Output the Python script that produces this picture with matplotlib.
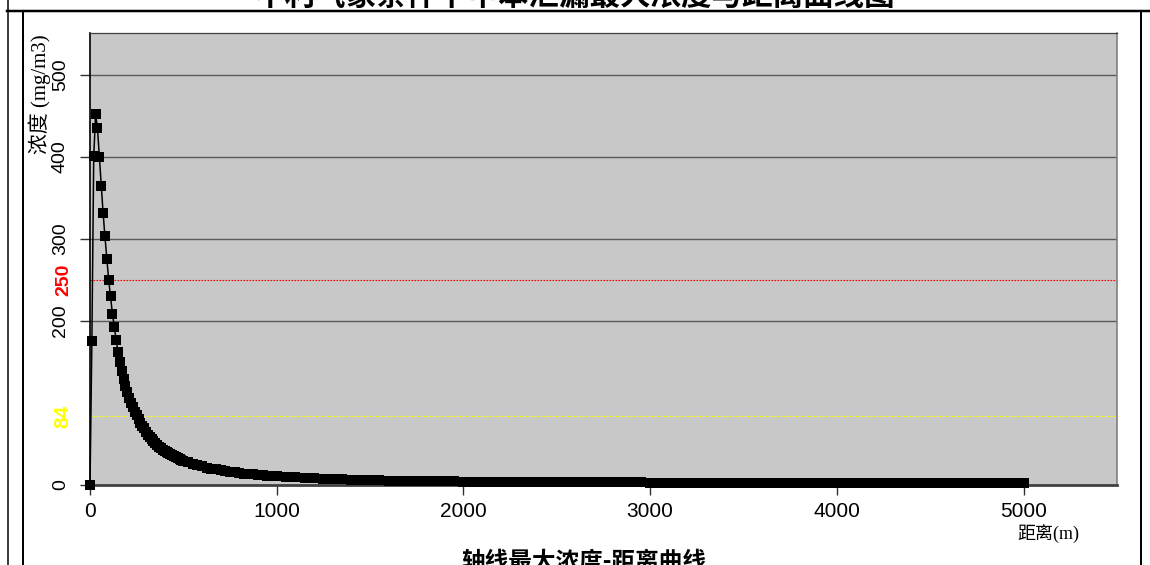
import matplotlib
matplotlib.use("Agg")
import matplotlib.pyplot as plt
from matplotlib.lines import Line2D

# Receptor distances along the plume axis (m) and maximum concentration (mg/m3)
near_dist = [0, 10, 20, 30, 40, 50, 60, 70, 80, 90, 100, 110, 120, 130, 140, 150,
             160, 170, 180, 190, 200, 210, 220, 230, 240, 250, 260, 270, 280, 290, 300,
             310, 320, 330, 340, 350, 360, 370, 380, 390, 400, 410, 420, 430, 440,
             450, 460, 470, 480, 490, 500]
near_conc = [0, 175, 401, 452, 435, 400, 365, 332, 303, 276, 250, 230, 209, 193, 177, 162,
             150, 139, 129, 121, 113, 106, 100, 95, 89, 85, 80, 76, 72, 69, 65,
             61.5, 58.5, 55.7, 53.2, 50.8, 48.6, 46.7, 44.8, 43.1, 41.5, 40.0, 38.6, 37.2, 36.0,
             34.8, 33.7, 32.6, 31.6, 30.6, 29.7]

mid_dist = [525, 550, 575, 600, 625, 650, 675, 700, 725, 750, 775, 800, 825, 850,
            875, 900, 925, 950, 975, 1000]
mid_conc = [27.6, 25.7, 24.1, 22.6, 21.3, 20.0, 18.9, 17.9, 17.0, 16.2, 15.4, 14.7, 14.0, 13.4,
            12.8, 12.3, 11.8, 11.3, 10.9, 10.5]

far_dist = [1050, 1100, 1150, 1200, 1250, 1300, 1350, 1400, 1450, 1500, 1550, 1600,
            1650, 1700, 1750, 1800, 1850, 1900, 1950, 2000, 2050, 2100, 2150, 2200,
            2250, 2300, 2350, 2400, 2450, 2500, 2550, 2600, 2650, 2700, 2750, 2800,
            2850, 2900, 2950, 3000, 3050, 3100, 3150, 3200, 3250, 3300, 3350, 3400,
            3450, 3500, 3550, 3600, 3650, 3700, 3750, 3800, 3850, 3900, 3950, 4000,
            4050, 4100, 4150, 4200, 4250, 4300, 4350, 4400, 4450, 4500, 4550, 4600,
            4650, 4700, 4750, 4800, 4850, 4900, 4950, 5000]
far_conc = [9.8, 9.2, 8.6, 8.1, 7.6, 7.2, 6.8, 6.5, 6.2, 5.9, 5.6, 5.4,
            5.2, 5.0, 4.8, 4.7, 4.5, 4.4, 4.3, 4.2, 4.1, 4.0, 3.9, 3.8,
            3.75, 3.7, 3.65, 3.6, 3.55, 3.5, 3.45, 3.4, 3.35, 3.3, 3.25, 3.2,
            3.15, 3.1, 3.05, 3.0, 2.96, 2.92, 2.88, 2.84, 2.80, 2.77, 2.74, 2.71,
            2.68, 2.65, 2.62, 2.59, 2.56, 2.53, 2.50, 2.48, 2.46, 2.44, 2.42, 2.40,
            2.38, 2.36, 2.34, 2.32, 2.30, 2.28, 2.26, 2.24, 2.22, 2.20, 2.18, 2.16,
            2.14, 2.12, 2.10, 2.08, 2.06, 2.04, 2.02, 2.00]

distance = near_dist + mid_dist + far_dist
concentration = near_conc + mid_conc + far_conc

# Threshold levels drawn as reference lines
threshold_high = 250
threshold_low = 84

x_ticks = [0, 1000, 2000, 3000, 4000, 5000]
y_ticks = [0, 200, 300, 400, 500]

title_text = "不利气象条件下甲苯泄漏最大浓度与距离曲线图"
subtitle_text = "轴线最大浓度-距离曲线"
x_label = "距离(m)"
y_label = "浓度 (mg/m3)"

SANS = ["Liberation Sans"]
CJK = ["Noto Sans CJK SC"]
SERIF_CJK = ["Liberation Serif", "Noto Sans CJK SC"]

W, H = 1150, 565
fig = plt.figure(figsize=(W / 100, H / 100), dpi=100)
fig.patch.set_facecolor("white")


def px_x(x):
    return x / W


def px_y(y):
    return 1 - y / H


ax = fig.add_axes([px_x(90), px_y(485), px_x(1117) - px_x(90), px_y(33) - px_y(485)])
ax.set_facecolor("#C8C8C8")
ax.set_xlim(0, 5500)
ax.set_ylim(0, 551)

for yv in y_ticks[1:]:
    ax.axhline(yv, color="#5a5a5a", lw=1.0, zorder=1)

ax.axhline(threshold_high, color="#FF0000", lw=0.8, dashes=(1.5, 1.2), zorder=2)
ax.axhline(threshold_low, color="#FFFF00", lw=0.8, dashes=(1.5, 1.2), zorder=2)

ax.plot(distance, concentration, color="black", lw=1.1, marker="s", ms=7.2,
        mew=0, mfc="black", zorder=5, clip_on=False)

ax.set_xticks(x_ticks)
ax.set_xticklabels([str(v) for v in x_ticks])
ax.set_yticks(y_ticks)
ax.set_yticklabels([str(v) for v in y_ticks])
ax.tick_params(axis="both", direction="out", length=7.2, width=1.0, color="#303030")
ax.tick_params(axis="x", pad=5, labelsize=15)
ax.tick_params(axis="y", pad=8, labelsize=14, labelrotation=90)
for lab in ax.get_xticklabels():
    lab.set_family(SANS)
for lab in ax.get_yticklabels():
    lab.set_family(SANS)
    lab.set_va("center")

ax.spines["left"].set_color("black")
ax.spines["left"].set_linewidth(1.2)
ax.spines["bottom"].set_color("#404040")
ax.spines["bottom"].set_linewidth(2.0)
ax.spines["right"].set_color("#808080")
ax.spines["right"].set_linewidth(1.2)
ax.spines["top"].set_color("#404040")
ax.spines["top"].set_linewidth(0.9)

# Threshold values written beside the y axis
ax.text(-26 / 186.8 * 1000, threshold_high, str(threshold_high), color="#FF0000",
        rotation=90, ha="center", va="center", fontsize=14, fontweight="bold",
        family=SANS)
ax.text(-27 / 186.8 * 1000, threshold_low, str(threshold_low), color="#FFFF00",
        rotation=90, ha="center", va="center", fontsize=15, fontweight="bold",
        family=SANS)

# Axis titles
fig.text(px_x(40), px_y(34), y_label, rotation=90, ha="center", va="top",
         fontsize=15, family=SERIF_CJK)
fig.text(px_x(1048), px_y(535), x_label, ha="center", va="center",
         fontsize=13, family=SERIF_CJK)

# Headings
fig.text(px_x(575), px_y(5), title_text, ha="center", va="baseline",
         fontsize=22, fontweight="bold", family=CJK)
fig.text(px_x(584), px_y(569), subtitle_text, ha="center", va="baseline",
         fontsize=17, fontweight="bold", family=CJK)

# Page frame
frame = [
    ((7.5, 7.5), (0, H), 1.5),
    ((7, W), (11, 11), 2.5),
    ((23, 23), (11, H), 2.0),
    ((1141, 1141), (11, H), 2.0),
]
for xs, ys, lw in frame:
    fig.add_artist(Line2D([px_x(v) for v in xs], [px_y(v) for v in ys],
                          color="black", lw=lw * 0.72, transform=fig.transFigure))

fig.savefig("out.png", dpi=100)
